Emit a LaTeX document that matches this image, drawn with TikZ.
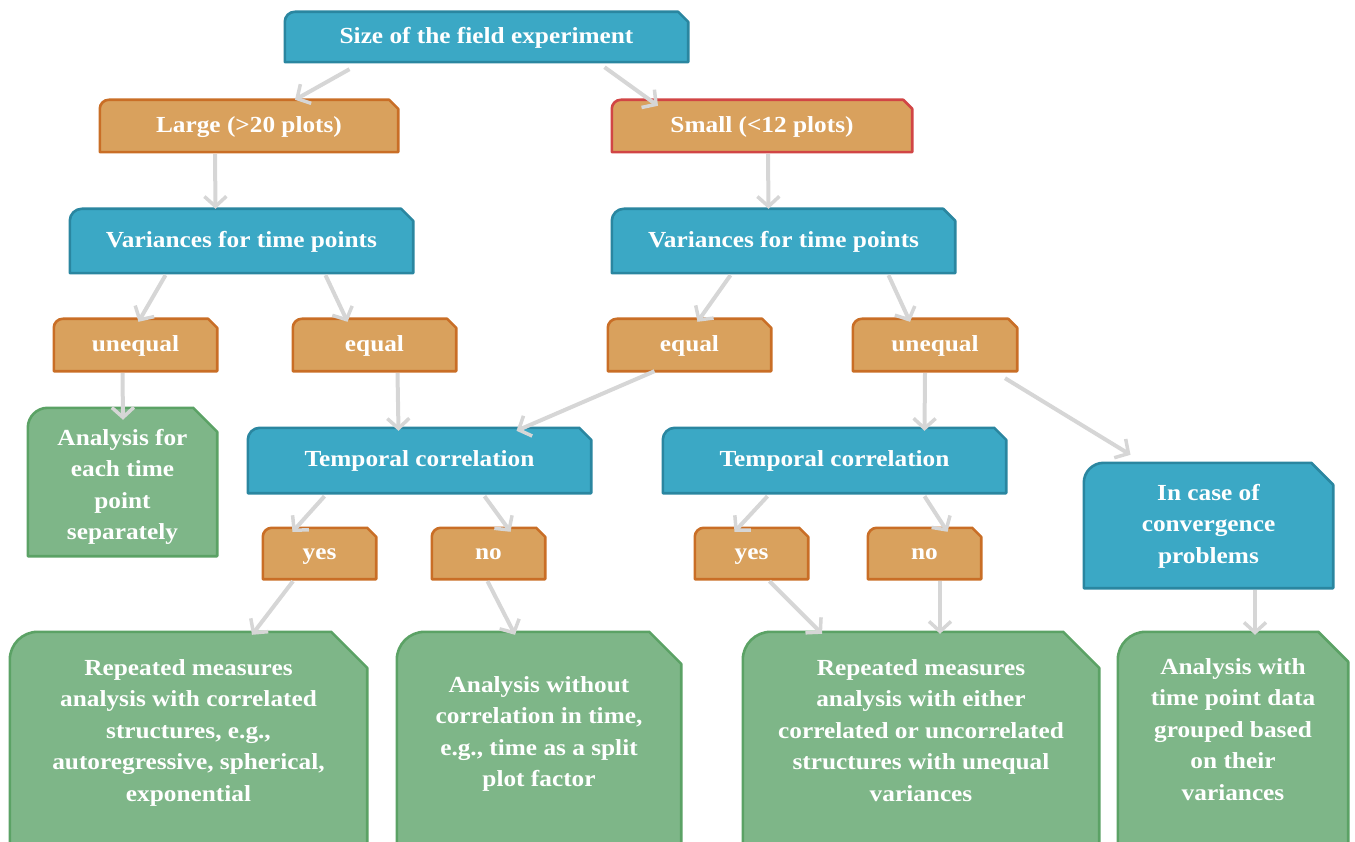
\documentclass[tikz,border=0pt]{standalone}
\usepackage{fontspec}
\setmainfont[FakeStretch=1.1]{Liberation Serif}
\usetikzlibrary{arrows.meta,calc}
\pgfdeclarelayer{background}
\pgfsetlayers{background,main}
\definecolor{bfill}{HTML}{3BA8C5}
\definecolor{bline}{HTML}{2A86A0}
\definecolor{ofill}{HTML}{D9A15D}
\definecolor{oline}{HTML}{C96E26}
\definecolor{rline}{HTML}{D14545}
\definecolor{gfill}{HTML}{7EB688}
\definecolor{gline}{HTML}{5BA265}
\definecolor{arrcol}{HTML}{D6D6D6}
\tikzset{
  txt/.style={draw=none, fill=none, text=white, inner sep=0pt, align=center,
    font=\bfseries\fontsize{23}{31.5}\selectfont},
  conn/.style={draw=arrcol, line width=4pt,
    -{Straight Barb[length=10pt,width=22pt,line width=3.5pt]}},
}
% #1 name, #2 fill, #3 line, #4 radius, #5 cut, #6 extra bottom
\newcommand\snipshape[6]{%
  \begin{pgfonlayer}{background}
  \filldraw[fill=#2, draw=#3, line width=2.6pt, line join=round]
    ([yshift=-#6]#1.south west) -- ([yshift=-#4]#1.north west)
    arc[start angle=180, end angle=90, radius=#4]
    -- ([xshift=-#5]#1.north east) -- ([yshift=-#5]#1.north east)
    -- ([yshift=-#6]#1.south east) -- cycle;
  \end{pgfonlayer}}
\begin{document}
\begin{tikzpicture}[x=1pt,y=-1pt]
\useasboundingbox (0,0) rectangle (1355,842);
\newcommand\boxat[6]{% name, x1,y1,x2,y2, text
  \node[txt, minimum width=#4-#2, minimum height=#5-#3] (#1) at ({(#2+#4)/2},{(#3+#5)/2}) {\strut #6\strut};}
\boxat{top}{285}{12}{688}{62}{Size of the field experiment}
\boxat{large}{100}{100}{398}{152}{Large (>20 plots)}
\boxat{small}{612}{100}{912}{152}{Small (<12 plots)}
\boxat{varL}{70}{209}{413}{273}{Variances for time points}
\boxat{varR}{612}{209}{955}{273}{Variances for time points}
\boxat{uneqL}{54}{319}{217}{371}{unequal}
\boxat{eqL}{293}{319}{456}{371}{equal}
\boxat{eqR}{608}{319}{771}{371}{equal}
\boxat{uneqR}{853}{319}{1017}{371}{unequal}
\boxat{each}{28}{408}{217}{564}{Analysis for\\each time\\point\\separately}
\boxat{tempL}{248}{428}{591}{493}{Temporal correlation}
\boxat{tempR}{663}{428}{1006}{493}{Temporal correlation}
\boxat{conv}{1084}{463}{1333}{588}{In case of\\convergence\\problems}
\boxat{yesL}{263}{528}{376}{579}{yes}
\boxat{noL}{432}{528}{545}{579}{no}
\boxat{yesR}{695}{528}{808}{579}{yes}
\boxat{noR}{868}{528}{981}{579}{no}
\boxat{resA}{10}{632}{367}{832}{Repeated measures\\analysis with correlated\\structures, e.g.,\\autoregressive, spherical,\\exponential}
\boxat{resB}{397}{632}{681}{834}{Analysis without\\correlation in time,\\e.g., time as a split\\plot factor}
\boxat{resC}{743}{632}{1099}{832}{Repeated measures\\analysis with either\\correlated or uncorrelated\\structures with unequal\\variances}
\boxat{resD}{1118}{632}{1348}{830}{Analysis with\\time point data\\grouped based\\on their\\variances}
% shapes
\snipshape{top}{bfill}{bline}{10pt}{10pt}{0pt}
\snipshape{large}{ofill}{oline}{9pt}{9pt}{0pt}
\snipshape{small}{ofill}{rline}{9pt}{9pt}{0pt}
\snipshape{varL}{bfill}{bline}{12pt}{12pt}{0pt}
\snipshape{varR}{bfill}{bline}{12pt}{12pt}{0pt}
\snipshape{uneqL}{ofill}{oline}{9pt}{9pt}{0pt}
\snipshape{eqL}{ofill}{oline}{9pt}{9pt}{0pt}
\snipshape{eqR}{ofill}{oline}{9pt}{9pt}{0pt}
\snipshape{uneqR}{ofill}{oline}{9pt}{9pt}{0pt}
\snipshape{each}{gfill}{gline}{20pt}{24pt}{-8pt}
\snipshape{tempL}{bfill}{bline}{12pt}{12pt}{0pt}
\snipshape{tempR}{bfill}{bline}{12pt}{12pt}{0pt}
\snipshape{conv}{bfill}{bline}{20pt}{22pt}{0pt}
\snipshape{yesL}{ofill}{oline}{9pt}{9pt}{0pt}
\snipshape{noL}{ofill}{oline}{9pt}{9pt}{0pt}
\snipshape{yesR}{ofill}{oline}{9pt}{9pt}{0pt}
\snipshape{noR}{ofill}{oline}{9pt}{9pt}{0pt}
\snipshape{resA}{gfill}{gline}{28pt}{36pt}{30pt}
\snipshape{resB}{gfill}{gline}{28pt}{32pt}{30pt}
\snipshape{resC}{gfill}{gline}{28pt}{36pt}{30pt}
\snipshape{resD}{gfill}{gline}{28pt}{30pt}{30pt}
% connectors
\draw[conn] ([xshift=-137pt,yshift=-7pt]top.south) -- ([xshift=46pt]large.north);
\draw[conn] ([xshift=118pt,yshift=-5pt]top.south) -- ([xshift=-104pt,yshift=-6pt]small.north);
\draw[conn] ([xshift=-34pt,yshift=-2pt]large.south) -- ([xshift=-26pt]varL.north);
\draw[conn] ([xshift=6pt,yshift=-2pt]small.south) -- ([xshift=-15pt]varR.north);
\draw[conn] ([xshift=-76pt,yshift=-2pt]varL.south) -- ([xshift=3pt,yshift=-3pt]uneqL.north);
\draw[conn] ([xshift=84pt,yshift=-2pt]varL.south) -- ([xshift=-27pt,yshift=-3pt]eqL.north);
\draw[conn] ([xshift=-53pt,yshift=-2pt]varR.south) -- ([xshift=8pt,yshift=-3pt]eqR.north);
\draw[conn] ([xshift=105pt,yshift=-2pt]varR.south) -- ([xshift=-25pt,yshift=-3pt]uneqR.north);
\draw[conn] ([xshift=-13pt,yshift=-2pt]uneqL.south) -- ([xshift=0.5pt,yshift=-12pt]each.north);
\draw[conn] ([xshift=23pt,yshift=-2pt]eqL.south) -- ([xshift=-21pt,yshift=-3pt]tempL.north);
\draw[conn] ([xshift=-35pt,yshift=0pt]eqR.south) -- ([xshift=97pt,yshift=-3pt]tempL.north);
\draw[conn] ([xshift=-10pt,yshift=-2pt]uneqR.south) -- ([xshift=90pt,yshift=-3pt]tempR.north);
\draw[conn] ([xshift=70pt,yshift=-7pt]uneqR.south) -- ([xshift=-78pt,yshift=8pt]conv.north);
\draw[conn] ([xshift=-95pt,yshift=-3pt]tempL.south) -- ([xshift=-27pt,yshift=-4pt]yesL.north);
\draw[conn] ([xshift=65pt,yshift=-3pt]tempL.south) -- ([xshift=22pt,yshift=-4pt]noL.north);
\draw[conn] ([xshift=-67pt,yshift=-3pt]tempR.south) -- ([xshift=-17pt,yshift=-4pt]yesR.north);
\draw[conn] ([xshift=90pt,yshift=-3pt]tempR.south) -- ([xshift=23pt,yshift=-4pt]noR.north);
\draw[conn] ([xshift=-26.5pt,yshift=-2pt]yesL.south) -- ([xshift=63.5pt,yshift=-3pt]resA.north);
\draw[conn] ([xshift=-1pt,yshift=-2pt]noL.south) -- ([xshift=-24pt,yshift=-3pt]resB.north);
\draw[conn] ([xshift=18pt,yshift=-2pt]yesR.south) -- ([xshift=-99pt,yshift=-2pt]resC.north);
\draw[conn] ([xshift=15.5pt,yshift=-2pt]noR.south) -- ([xshift=19pt,yshift=-2pt]resC.north);
\draw[conn] ([xshift=46.5pt,yshift=-2pt]conv.south) -- ([xshift=22pt,yshift=-3pt]resD.north);
\end{tikzpicture}
\end{document}
